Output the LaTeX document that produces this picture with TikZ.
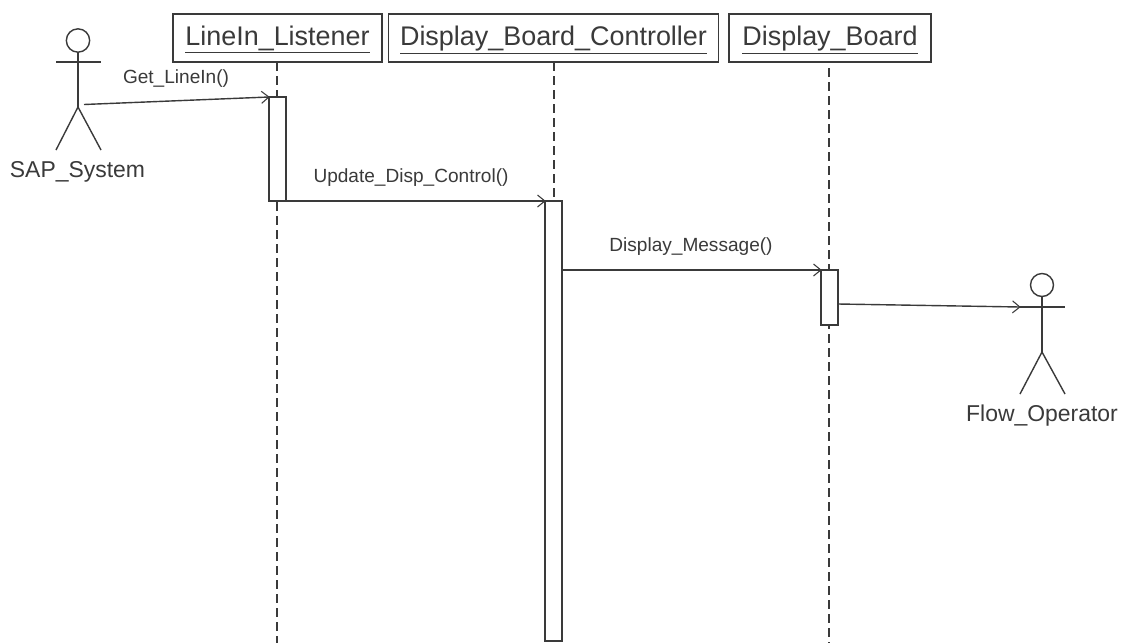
\documentclass[tikz,border=0pt]{standalone}
\usepackage{fontspec}
\setmainfont{Liberation Sans}
\usetikzlibrary{arrows.meta}
\definecolor{ink}{HTML}{3A3A3A}
\tikzset{
  x=0.75pt,y=-0.75pt,
  every path/.style={line width=1.05pt,draw=ink},
  headbox/.style={draw=ink,fill=white,inner sep=0pt,outer sep=0pt,minimum height=36pt,text height=14pt,text depth=3pt,text=ink,font=\fontsize{20.2}{24}\selectfont},
  actbox/.style={draw=ink,fill=white,inner sep=0pt,outer sep=0pt,minimum width=12.75pt},
  lifeline/.style={dash pattern=on 6.75pt off 3.75pt},
  msg/.style={-{Straight Barb[length=5.5pt,width=9pt,line width=0.8pt]},shorten >=-0.5pt},
  msgtext/.style={inner sep=0pt,text=ink,font=\fontsize{14.3}{17}\selectfont},
  actortext/.style={inner sep=0pt,text=ink,font=\fontsize{17.2}{20}\selectfont},
  headcircle/.style={draw=ink,circle,inner sep=0pt,outer sep=0pt,minimum size=17.5pt},
}
\begin{document}
\begin{tikzpicture}
\useasboundingbox[fill=white,draw=none] (0,0) rectangle (1125,643);
% head boxes
\node[headbox,minimum width=156.75pt] (listener) at (277.5,38) {\underline{LineIn\_Listener}};
\node[headbox,minimum width=247.5pt] (controller) at (553.5,38) {\underline{Display\_Board\_Controller}};
\node[headbox,minimum width=151.5pt] (board) at (830,38) {\underline{Display\_Board}};
% lifeline ends
\coordinate (lend) at (277,643);
\coordinate (cend) at (554,640);
\coordinate (bstart) at (829,68);
\coordinate (bend) at (829,643);
\draw[lifeline] (listener.south -| lend) -- (lend);
\draw[lifeline] (controller.south -| cend) -- (cend);
\draw[lifeline] (bstart) -- (bend);
% activations
\node[actbox,minimum height=78pt] (alist) at (277.5,149) {};
\node[actbox,minimum height=330pt] (acont) at (553.5,421) {};
\node[actbox,minimum height=41.25pt] (aboard) at (829.5,297.5) {};
% SAP_System actor
\node[headcircle] (shead) at (78,40.5) {};
\coordinate (sarml) at (56,62);
\coordinate (sarmr) at (101,62);
\coordinate (ship) at (78,107);
\coordinate (slegl) at (56,150);
\coordinate (slegr) at (101,150);
\coordinate (sfrom) at (84,104.5);
\draw (sarml) -- (sarmr);
\draw (shead) -- (ship);
\draw (slegl) -- (ship) -- (slegr);
\node[actortext] (stext) at (77.5,172) {SAP\_System};
% Flow_Operator actor
\node[headcircle,minimum size=17.25pt] (fhead) at (1042,285) {};
\coordinate (farml) at (1020,307);
\coordinate (farmr) at (1065,307);
\coordinate (fhip) at (1042,352);
\coordinate (flegl) at (1020,394);
\coordinate (flegr) at (1065,394);
\draw (farml) -- (farmr);
\draw (fhead) -- (fhip);
\draw (flegl) -- (fhip) -- (flegr);
\node[actortext] (ftext) at (1042,416) {Flow\_Operator};
% messages
\draw[msg] (sfrom) -- (alist.north west);
\draw[msg] (alist.south east) -- (acont.north west);
\draw[msg] (acont.east |- aboard.north) -- (aboard.north west);
\coordinate (bfrom) at (838,304);
\draw[msg] (bfrom) -- (farml);
% labels
\node[msgtext] (m1) at (176,79) {Get\_LineIn()};
\node[msgtext] (m2) at (411,178) {Update\_Disp\_Control()};
\node[msgtext] (m3) at (691,247) {Display\_Message()};
\end{tikzpicture}
\end{document}
